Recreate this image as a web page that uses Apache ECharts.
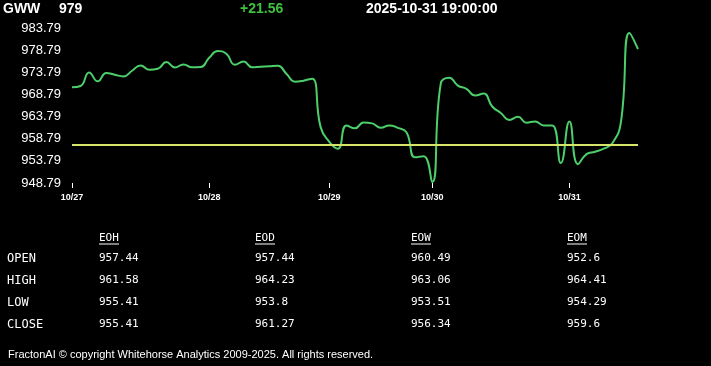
<!DOCTYPE html>
<html><head><meta charset="utf-8">
<script src="https://cdn.jsdelivr.net/npm/echarts@6/dist/echarts.min.js"></script>
<style>html,body{margin:0;padding:0;background:#000;}#c{width:711px;height:366px;}</style>
</head><body><div id="c"></div>
<script>
const symbol = 'GWW';
const lastPrice = '979';
const change = '+21.56';
const stamp = '2025-10-31 19:00:00';
const dayLabels = ['10/27', '10/28', '10/29', '10/30', '10/31'];
const dayStartIndex = [0, 16, 30, 42, 58];
const prices = [
  970.40, 970.70, 973.76, 971.74, 973.63, 973.24, 972.86, 974.14, 975.33, 974.37,
  974.59, 976.09, 974.88, 975.56, 974.93, 974.97, 977.06, 978.60, 977.96, 975.49,
  976.23, 974.93, 975.04, 975.15, 975.26, 973.47, 971.67, 971.90, 972.35, 961.35,
  958.10, 956.53, 961.80, 961.13, 962.47, 962.25, 961.24, 961.80, 961.24, 960.23,
  954.62, 954.85, 949.00, 971.23, 972.57, 970.78, 970.04, 968.53, 968.98, 966.06,
  964.60, 963.04, 963.75, 962.41, 962.70, 961.80, 961.80, 953.28, 962.70, 953.05,
  955.30, 955.86, 956.53, 957.76, 962.47, 982.67, 979.00
];
const refLevel = 957.44;
const yMin = 948.79, yMax = 983.79, yStep = 5;
const tableCols = ['EOH', 'EOD', 'EOW', 'EOM'];
const tableRows = ['OPEN', 'HIGH', 'LOW', 'CLOSE'];
const eohValues = ['957.44', '961.58', '955.41', '955.41'];
const eodValues = ['957.44', '964.23', '953.8', '961.27'];
const eowValues = ['960.49', '963.06', '953.51', '956.34'];
const eomValues = ['952.6', '964.41', '954.29', '959.6'];
const footer = 'FractonAI \u00A9 copyright Whitehorse Analytics 2009-2025. All rights reserved.';

const chart = echarts.init(document.getElementById('c'), null, {renderer: 'canvas'});
const xCats = prices.map((_, i) => String(i));
const colValues = [eohValues, eodValues, eowValues, eomValues];
const colX = [99, 255, 411, 567];
const rowY = [259, 281, 303, 325];
const mono = '"DejaVu Sans Mono", monospace';
const sans = 'Arial, "Liberation Sans", sans-serif';

const graphics = [
  {type: 'text', left: 3, top: 2, style: {text: symbol, fill: '#fff', font: 'bold 14px ' + sans}},
  {type: 'text', left: 59, top: 2, style: {text: lastPrice, fill: '#fff', font: 'bold 14px ' + sans}},
  {type: 'text', left: 240, top: 2, style: {text: change, fill: '#3ec23e', font: 'bold 14px ' + sans}},
  {type: 'text', left: 366, top: 2, style: {text: stamp, fill: '#fff', font: 'bold 14px ' + sans}},
  {type: 'text', left: 8, top: 349, style: {text: footer, fill: '#fff', font: '11px ' + sans}}
];
tableCols.forEach((c, ci) => {
  graphics.push({type: 'text', x: colX[ci], y: 238, style: {text: c, fill: '#fff', font: '11px ' + mono, textVerticalAlign: 'middle'}});
  graphics.push({type: 'line', shape: {x1: colX[ci], y1: 244, x2: colX[ci] + 20, y2: 244}, style: {stroke: '#fff', lineWidth: 1}});
  colValues[ci].forEach((v, ri) => {
    graphics.push({type: 'text', x: colX[ci], y: rowY[ri] - 1, style: {text: v, fill: '#fff', font: '11px ' + mono, textVerticalAlign: 'middle'}});
  });
});
tableRows.forEach((r, ri) => {
  graphics.push({type: 'text', x: 7, y: rowY[ri], style: {text: r, fill: '#fff', font: '12px ' + mono, textVerticalAlign: 'middle'}});
});

chart.setOption({
  backgroundColor: '#000',
  animation: false,
  grid: {left: 72, right: 73, top: 28, bottom: 183},
  xAxis: {
    type: 'category', data: xCats, boundaryGap: false,
    axisLine: {show: false},
    axisTick: {show: true, length: 5, lineStyle: {color: '#fff', width: 1}, interval: (i) => dayStartIndex.includes(i)},
    axisLabel: {color: '#fff', fontSize: 9, fontWeight: 'bold', fontFamily: sans, margin: 10,
      interval: (i) => dayStartIndex.includes(i),
      formatter: (v, i) => { const k = dayStartIndex.indexOf(Number(v)); return k >= 0 ? dayLabels[k] : ''; }},
    splitLine: {show: false}
  },
  yAxis: {
    type: 'value', min: yMin, max: yMax, interval: yStep,
    axisLine: {show: false}, axisTick: {show: false}, splitLine: {show: false},
    axisLabel: {color: '#fff', fontSize: 13, fontFamily: sans, margin: 11, formatter: (v) => v.toFixed(2)}
  },
  series: [{
    type: 'line', data: prices, smooth: 0.5, showSymbol: false,
    lineStyle: {color: '#4ccf6a', width: 2},
    markLine: {silent: true, symbol: 'none', label: {show: false},
      lineStyle: {color: '#d7e46a', width: 2, type: 'solid'},
      data: [{yAxis: refLevel}]}
  }],
  graphic: graphics
});
</script></body></html>
